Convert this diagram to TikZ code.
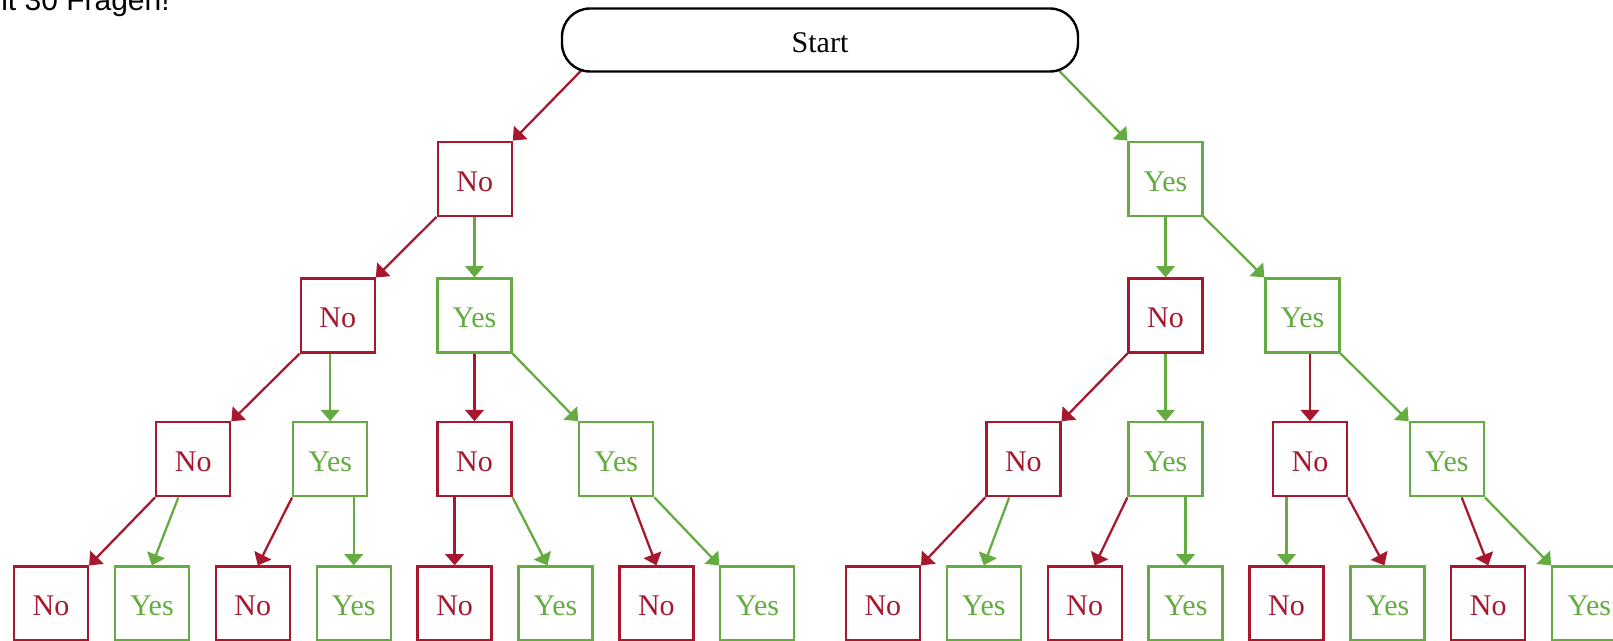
\documentclass[tikz,border=0pt]{standalone}
\usepackage{fontspec}
\setmainfont{Liberation Serif}
\newfontfamily\labelsans{Liberation Sans}
\usetikzlibrary{arrows.meta,calc}
\definecolor{nored}{RGB}{167,24,46}
\definecolor{yesgreen}{RGB}{100,172,65}
\pgfdeclarelayer{background}
\pgfsetlayers{background,main}
\begin{document}
\begin{tikzpicture}[x=0.75pt,y=-0.75pt,
  box/.style={draw, line width=1.7pt, fill=white, minimum width=55.5pt, minimum height=55.5pt, inner sep=0pt, text height=18.5pt, text depth=0pt, font=\fontsize{22.5}{27}\selectfont},
  nobox/.style={box, draw=nored, text=nored},
  yesbox/.style={box, draw=yesgreen, text=yesgreen},
  startbox/.style={draw=black, line width=1.8pt, fill=white, rounded corners=21pt, minimum width=387pt, minimum height=47.25pt, inner sep=0pt, text height=18.5pt, text depth=0pt, font=\fontsize{22.5}{27}\selectfont},
  link/.style={line width=1.7pt, -{Triangle[length=8.5pt,width=14pt]}},
  nolink/.style={link, color=nored},
  yeslink/.style={link, color=yesgreen}
]
\useasboundingbox (0,0) rectangle (1613,641);
\begin{pgfonlayer}{background}
\fill[white] (0,0) rectangle (1613,641);
\end{pgfonlayer}

\node[anchor=base east, inner sep=0pt, font=\labelsans\fontsize{22.5}{27}\selectfont] (title) at (170,10.5) {it 30 Fragen!};

\node[startbox] (start) at (820,40) {Start};

\node[nobox]  (n1a) at (474.7,178.7) {No};
\node[yesbox] (n1b) at (1165.5,178.7) {Yes};

\node[nobox]  (n2a) at (337.7,315.5) {No};
\node[yesbox] (n2b) at (474.5,315.5) {Yes};
\node[nobox]  (n2c) at (1165.5,315.5) {No};
\node[yesbox] (n2d) at (1302.5,315.5) {Yes};

\node[nobox]  (n3a) at (193.2,459.3) {No};
\node[yesbox] (n3b) at (330.2,459.3) {Yes};
\node[nobox]  (n3c) at (474.5,459.3) {No};
\node[yesbox] (n3d) at (616.3,459.3) {Yes};
\node[nobox]  (n3e) at (1023.4,459.3) {No};
\node[yesbox] (n3f) at (1165.5,459.3) {Yes};
\node[nobox]  (n3g) at (1310,459.3) {No};
\node[yesbox] (n3h) at (1446.8,459.3) {Yes};

\foreach \k in {0,...,3} {
  \pgfmathsetmacro{\xa}{51+201.8*\k}
  \pgfmathsetmacro{\xb}{51+100.9+201.8*\k}
  \pgfmathtruncatemacro{\ia}{2*\k+1}
  \pgfmathtruncatemacro{\ib}{2*\k+2}
  \node[nobox]  (c\ia) at (\xa,603.5) {No};
  \node[yesbox] (c\ib) at (\xb,603.5) {Yes};
  \pgfmathsetmacro{\xc}{882.9+201.8*\k}
  \pgfmathsetmacro{\xd}{882.9+100.9+201.8*\k}
  \pgfmathtruncatemacro{\ic}{2*\k+9}
  \pgfmathtruncatemacro{\id}{2*\k+10}
  \node[nobox]  (c\ic) at (\xc,603.5) {No};
  \node[yesbox] (c\id) at (\xd,603.5) {Yes};
}

\begin{pgfonlayer}{background}
\draw[nolink] ([shift={(30,-12)}]start.south west) -- (n1a.north east);
\draw[yeslink] ([shift={(-30,-12)}]start.south east) -- (n1b.north west);

\draw[nolink] (n1a.south west) -- (n2a.north east);
\draw[yeslink] (n1a.south -| n2b.north) -- (n2b.north);
\draw[yeslink] (n1b.south -| n2c.north) -- (n2c.north);
\draw[yeslink] (n1b.south east) -- (n2d.north west);

\draw[nolink] (n2a.south west) -- (n3a.north east);
\draw[yeslink] (n2a.south -| n3b.north) -- (n3b.north);
\draw[nolink] (n2b.south -| n3c.north) -- (n3c.north);
\draw[yeslink] (n2b.south east) -- (n3d.north west);
\draw[nolink] (n2c.south west) -- (n3e.north east);
\draw[yeslink] (n2c.south -| n3f.north) -- (n3f.north);
\draw[nolink] (n2d.south -| n3g.north) -- (n3g.north);
\draw[yeslink] (n2d.south east) -- (n3h.north west);

\draw[nolink] (n3a.south west) -- (c1.north east);
\draw[yeslink] (n3a) -- (c2.north);
\draw[nolink] (n3b.south west) -- ([shift={(5,0)}]c3.north);
\draw[yeslink] (n3b.south -| c4.north) -- (c4.north);
\draw[nolink] (n3c.south -| c5.north) -- (c5.north);
\draw[yeslink] (n3c.south east) -- ([shift={(-8,0)}]c6.north);
\draw[nolink] (n3d) -- (c7.north);
\draw[yeslink] (n3d.south east) -- (c8.north west);

\draw[nolink] (n3e.south west) -- (c9.north east);
\draw[yeslink] (n3e) -- (c10.north);
\draw[nolink] (n3f.south west) -- ([shift={(10,0)}]c11.north);
\draw[yeslink] (n3f.south -| c12.north) -- (c12.north);
\draw[yeslink] (n3g.south -| c13.north) -- (c13.north);
\draw[nolink] (n3g.south east) -- ([shift={(-3,0)}]c14.north);
\draw[nolink] (n3h) -- (c15.north);
\draw[yeslink] (n3h.south east) -- (c16.north west);
\end{pgfonlayer}
\end{tikzpicture}
\end{document}
